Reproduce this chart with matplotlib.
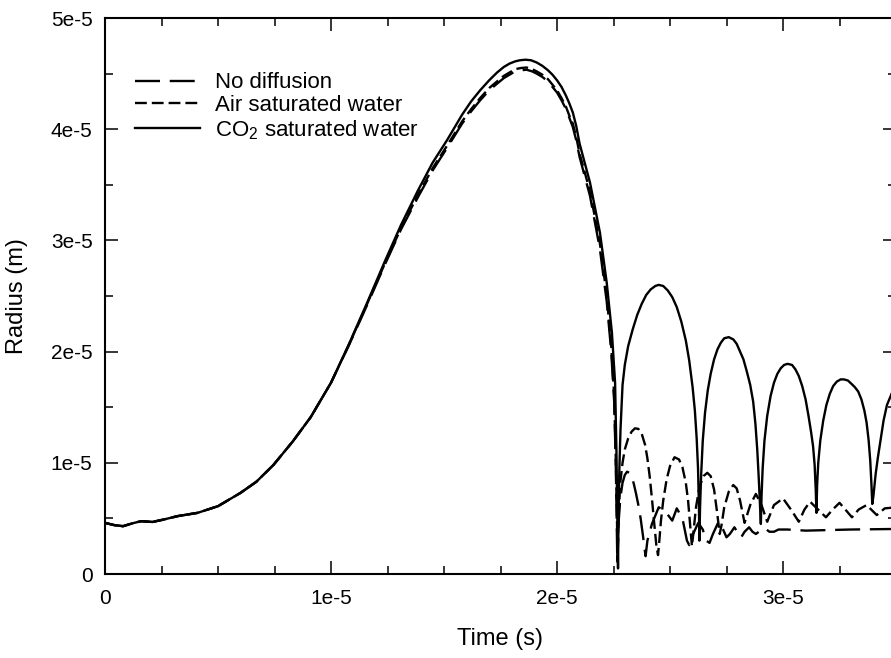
import matplotlib
matplotlib.use("Agg")
import numpy as np
import matplotlib.pyplot as plt
from matplotlib.ticker import MultipleLocator

plt.rcParams['font.family'] = ['Liberation Sans', 'DejaVu Sans']
plt.rcParams['lines.scale_dashes'] = False

SCALE = 1e-5  # values below are in units of 1e-5 (s and m)

# CO2 saturated water: growth, collapse and rebounds
co2_t = [0.00, 0.04, 0.08, 0.12, 0.16, 0.21, 0.26, 0.32, 0.41, 0.50, 0.60, 0.67,
         0.745, 0.83, 0.91, 1.00, 1.08, 1.16, 1.24, 1.31, 1.385, 1.45, 1.513,
         1.58, 1.62, 1.66, 1.70, 1.735, 1.765, 1.79, 1.815, 1.836, 1.86, 1.885,
         1.91, 1.935, 1.96, 1.98, 2.00, 2.02, 2.04, 2.055, 2.07, 2.085,
         2.10, 2.146, 2.19, 2.22, 2.243, 2.257, 2.263, 2.267, 2.270,
         2.272, 2.276, 2.281, 2.29, 2.30, 2.315, 2.335, 2.355, 2.375, 2.395,
         2.415, 2.435, 2.45, 2.47, 2.49, 2.51, 2.53, 2.55, 2.57, 2.585, 2.60,
         2.61, 2.618, 2.624, 2.628, 2.630,
         2.633, 2.638, 2.645, 2.655, 2.667, 2.68, 2.695, 2.71, 2.725, 2.74,
         2.76, 2.78, 2.795, 2.81, 2.825, 2.84, 2.855, 2.868, 2.878, 2.886,
         2.893, 2.898, 2.902,
         2.905, 2.91, 2.918, 2.93, 2.945, 2.96, 2.975, 2.99, 3.005, 3.02, 3.04,
         3.055, 3.07, 3.085, 3.10, 3.113, 3.124, 3.133, 3.14, 3.145, 3.148,
         3.151, 3.156, 3.165, 3.178, 3.192, 3.207, 3.222, 3.238, 3.255, 3.27,
         3.287, 3.303, 3.318, 3.333, 3.347, 3.36, 3.37, 3.379, 3.386, 3.391,
         3.395, 3.40, 3.41, 3.42, 3.43, 3.445, 3.46, 3.48, 3.50]
co2_r = [0.46, 0.44, 0.43, 0.455, 0.475, 0.468, 0.49, 0.52, 0.55, 0.61, 0.73, 0.83,
         0.98, 1.19, 1.41, 1.72, 2.07, 2.44, 2.82, 3.14, 3.45, 3.70, 3.90,
         4.13, 4.25, 4.35, 4.44, 4.51, 4.56, 4.59, 4.61, 4.62, 4.625, 4.62,
         4.60, 4.57, 4.53, 4.49, 4.44, 4.38, 4.30, 4.23, 4.15, 4.03,
         3.87, 3.52, 3.07, 2.62, 2.17, 1.72, 1.10, 0.50, 0.05,
         0.50, 0.95, 1.30, 1.70, 1.88, 2.05, 2.20, 2.33, 2.43, 2.51,
         2.56, 2.59, 2.60, 2.59, 2.55, 2.49, 2.40, 2.27, 2.10, 1.92, 1.68,
         1.47, 1.22, 0.95, 0.62, 0.30,
         0.60, 0.90, 1.20, 1.45, 1.65, 1.80, 1.93, 2.02, 2.08, 2.12,
         2.13, 2.11, 2.07, 2.00, 1.93, 1.82, 1.70, 1.55, 1.35, 1.12,
         0.85, 0.62, 0.45,
         0.70, 0.95, 1.20, 1.42, 1.60, 1.72, 1.80, 1.85, 1.88, 1.89, 1.88,
         1.84, 1.78, 1.69, 1.57, 1.42, 1.28, 1.15, 0.98, 0.75, 0.55,
         0.80, 1.00, 1.20, 1.38, 1.52, 1.62, 1.69, 1.73, 1.75, 1.75,
         1.74, 1.71, 1.68, 1.64, 1.57, 1.47, 1.36, 1.20, 1.02, 0.82,
         0.63, 0.70, 0.90, 1.05, 1.18, 1.38, 1.52, 1.62, 1.70]

# no diffusion
nd_t = [0.00, 0.04, 0.08, 0.12, 0.16, 0.21, 0.26, 0.32, 0.41, 0.50, 0.60, 0.67,
        0.745, 0.83, 0.91, 1.00, 1.08, 1.16, 1.24, 1.31, 1.385, 1.45, 1.513,
        1.58, 1.62, 1.66, 1.70, 1.735, 1.765, 1.79, 1.815, 1.84, 1.865, 1.89,
        1.91, 1.935, 1.96, 1.98, 2.00, 2.02, 2.04, 2.055, 2.07, 2.085,
        2.10, 2.146, 2.19, 2.22, 2.24, 2.253, 2.26, 2.264, 2.267,
        2.272, 2.28, 2.29, 2.30, 2.31, 2.32, 2.33, 2.34, 2.35, 2.36, 2.37,
        2.38, 2.388, 2.392, 2.40, 2.42, 2.45, 2.48, 2.51, 2.53, 2.555, 2.575,
        2.585, 2.60, 2.625, 2.645, 2.66, 2.675, 2.69, 2.715, 2.735, 2.75,
        2.765, 2.785, 2.80, 2.815, 2.83, 2.85, 2.865, 2.88, 2.90, 2.92, 2.94,
        2.96, 2.98, 3.02, 3.10, 3.20, 3.30, 3.50]
nd_r = [0.46, 0.44, 0.43, 0.455, 0.475, 0.468, 0.49, 0.52, 0.55, 0.61, 0.73, 0.83,
        0.98, 1.19, 1.41, 1.72, 2.06, 2.42, 2.79, 3.10, 3.39, 3.63, 3.83,
        4.05, 4.16, 4.26, 4.35, 4.41, 4.46, 4.49, 4.52, 4.53, 4.535, 4.52,
        4.50, 4.47, 4.43, 4.38, 4.33, 4.26, 4.18, 4.10, 4.02, 3.90,
        3.75, 3.40, 2.92, 2.45, 2.00, 1.55, 1.00, 0.50, 0.10,
        0.45, 0.68, 0.82, 0.89, 0.92, 0.91, 0.88, 0.81, 0.72, 0.62, 0.50,
        0.35, 0.22, 0.16, 0.30, 0.45, 0.60, 0.56, 0.48, 0.59, 0.50, 0.30,
        0.26, 0.35, 0.46, 0.40, 0.30, 0.28, 0.36, 0.47, 0.40, 0.33,
        0.36, 0.42, 0.37, 0.33, 0.38, 0.42, 0.38, 0.36, 0.39, 0.41, 0.38,
        0.38, 0.40, 0.40, 0.39, 0.395, 0.40, 0.405]

# air saturated water
air_t = [0.00, 0.04, 0.08, 0.12, 0.16, 0.21, 0.26, 0.32, 0.41, 0.50, 0.60, 0.67,
         0.745, 0.83, 0.91, 1.00, 1.08, 1.16, 1.24, 1.31, 1.385, 1.45, 1.513,
         1.58, 1.62, 1.66, 1.70, 1.735, 1.765, 1.79, 1.815, 1.84, 1.865, 1.89,
         1.91, 1.935, 1.96, 1.98, 2.00, 2.02, 2.04, 2.055, 2.07, 2.085,
         2.10, 2.146, 2.19, 2.22, 2.24, 2.253, 2.26, 2.265, 2.268,
         2.272, 2.28, 2.29, 2.30, 2.315, 2.33, 2.345, 2.36, 2.375, 2.39, 2.40,
         2.41, 2.42, 2.43, 2.44, 2.447, 2.452, 2.46, 2.47, 2.485, 2.50, 2.52,
         2.54, 2.555, 2.57, 2.58, 2.59, 2.597, 2.603, 2.615, 2.63, 2.648, 2.665,
         2.68, 2.695, 2.708, 2.72, 2.728, 2.74, 2.76, 2.78, 2.795, 2.81, 2.83,
         2.855, 2.88, 2.905, 2.93, 2.96, 3.00, 3.035, 3.07, 3.095, 3.12, 3.155,
         3.19, 3.22, 3.25, 3.28, 3.305, 3.335, 3.37, 3.395, 3.415, 3.45, 3.50]
air_r = [0.46, 0.44, 0.43, 0.455, 0.475, 0.468, 0.49, 0.52, 0.55, 0.61, 0.73, 0.83,
         0.98, 1.19, 1.41, 1.72, 2.065, 2.43, 2.80, 3.11, 3.41, 3.65, 3.85,
         4.07, 4.18, 4.28, 4.37, 4.43, 4.48, 4.51, 4.54, 4.55, 4.555, 4.54,
         4.52, 4.49, 4.45, 4.40, 4.35, 4.28, 4.20, 4.12, 4.05, 3.93,
         3.78, 3.44, 2.97, 2.50, 2.05, 1.60, 1.05, 0.55, 0.12,
         0.50, 0.82, 1.00, 1.12, 1.22, 1.28, 1.31, 1.305, 1.26, 1.16, 1.04,
         0.88, 0.68, 0.46, 0.25, 0.17, 0.28, 0.48, 0.66, 0.85, 0.97, 1.05,
         1.03, 0.96, 0.82, 0.66, 0.42, 0.25, 0.36, 0.60, 0.78, 0.88, 0.91,
         0.88, 0.76, 0.56, 0.36, 0.44, 0.60, 0.74, 0.80, 0.77, 0.66, 0.46,
         0.62, 0.72, 0.62, 0.47, 0.62, 0.68, 0.58, 0.47, 0.58, 0.65, 0.58,
         0.51, 0.58, 0.64, 0.57, 0.51, 0.58, 0.62, 0.57, 0.53, 0.59, 0.60]

x_ticks = [0, 1, 2, 3]
x_tick_labels = ['0', '1e-5', '2e-5', '3e-5']
y_ticks = [0, 1, 2, 3, 4, 5]
y_tick_labels = ['0', '1e-5', '2e-5', '3e-5', '4e-5', '5e-5']

fig = plt.figure(figsize=(8.91, 6.58), dpi=100)
ax = fig.add_axes([105 / 891, 84 / 658, 791 / 891, 556 / 658])

s = SCALE
ax.plot(np.array(nd_t) * s, np.array(nd_r) * s, color='black', lw=1.7,
        dashes=(18, 7), label='No diffusion')
ax.plot(np.array(air_t) * s, np.array(air_r) * s, color='black', lw=1.7,
        dashes=(8.5, 3.6), label='Air saturated water')
ax.plot(np.array(co2_t) * s, np.array(co2_r) * s, color='black', lw=1.7,
        label=r'CO$_\mathregular{2}$ saturated water')

ax.set_xlim(0, 3.5e-5)
ax.set_ylim(0, 5e-5)
ax.set_xticks([v * s for v in x_ticks], labels=x_tick_labels)
ax.set_yticks([v * s for v in y_ticks], labels=y_tick_labels)
ax.xaxis.set_minor_locator(MultipleLocator(0.25e-5))
ax.yaxis.set_minor_locator(MultipleLocator(0.5e-5))
ax.tick_params(which='both', direction='in', top=True, right=True, width=1.1,
               labelsize=15, colors='black')
ax.tick_params(which='major', length=9.5)
ax.tick_params(which='minor', length=5.5)
ax.tick_params(axis='y', pad=9)
ax.tick_params(axis='x', pad=11)
for sp in ax.spines.values():
    sp.set_linewidth(1.5)

ax.set_xlabel('Time (s)', fontsize=17)
ax.set_ylabel('Radius (m)', fontsize=17)
ax.xaxis.set_label_coords(0.5, -0.098)
ax.yaxis.set_label_coords(-0.097, 0.5)

ax.legend(loc='upper left', bbox_to_anchor=(0.038, 0.902), frameon=False,
          fontsize=16, handlelength=2.9, handletextpad=0.7,
          labelspacing=0.08, borderpad=0, borderaxespad=0)

fig.savefig('out.png', dpi=100)
